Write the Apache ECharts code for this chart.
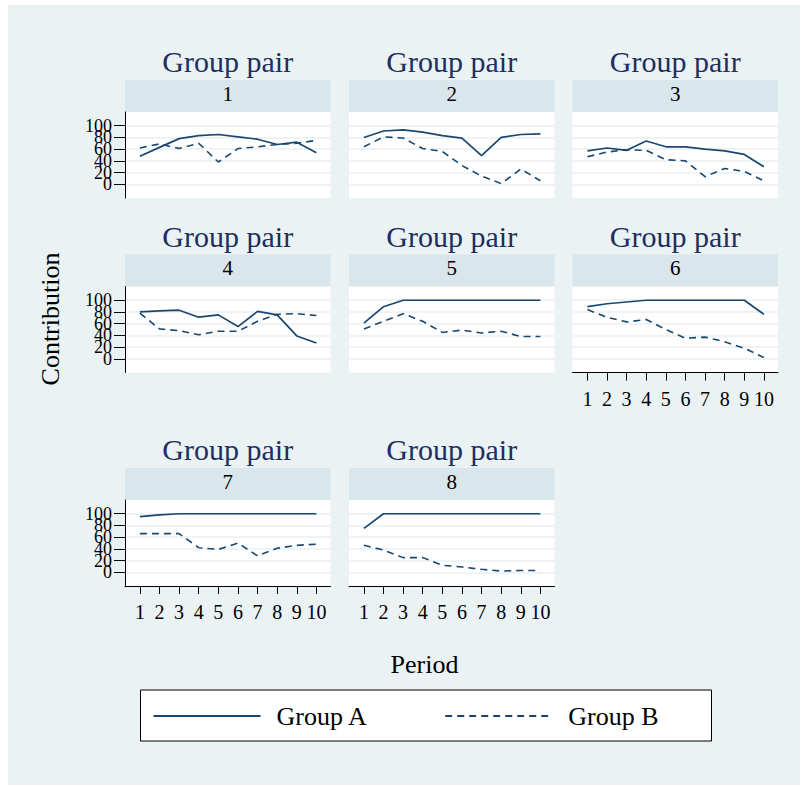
<!DOCTYPE html>
<html>
<head>
<meta charset="utf-8">
<script src="https://cdn.jsdelivr.net/npm/echarts@6/dist/echarts.min.js"></script>
<style>
  html, body { margin: 0; padding: 0; background: #ffffff; }
  #chart { width: 809px; height: 787px; }
</style>
</head>
<body>
<div id="chart"></div>
<script>
// ---- data ----
const periods = [1, 2, 3, 4, 5, 6, 7, 8, 9, 10];
const yTicks = [0, 20, 40, 60, 80, 100];
const pairLabels = ['1', '2', '3', '4', '5', '6', '7', '8'];
const panelTitle = 'Group pair';
const seriesNames = ['Group A', 'Group B'];

const pair1A = [48, 63, 78, 83, 85, 81, 77, 68, 72, 54];
const pair1B = [62, 69, 61, 70, 38, 61, 64, 68, 70, 75];
const pair2A = [80, 91, 93, 89, 83, 79, 49, 80, 85, 86];
const pair2B = [64, 81, 79, 61, 56, 32, 14, 1, 26, 6];
const pair3A = [57, 62, 58, 74, 64, 64, 60, 57, 51, 30];
const pair3B = [47, 55, 59, 58, 42, 40, 13, 27, 22, 6];
const pair4A = [80, 82, 83, 71, 75, 55, 81, 75, 39, 27];
const pair4B = [78, 51, 48, 41, 47, 47, 64, 76, 77, 74];
const pair5A = [61, 89, 100, 100, 100, 100, 100, 100, 100, 100];
const pair5B = [51, 64, 77, 64, 45, 49, 44, 47, 38, 38];
const pair6A = [89, 94, 97, 100, 100, 100, 100, 100, 100, 76];
const pair6B = [84, 71, 63, 67, 50, 35, 37, 29, 18, 2];
const pair7A = [95, 98, 100, 100, 100, 100, 100, 100, 100, 100];
const pair7B = [66, 66, 66, 42, 39, 50, 28, 41, 46, 48];
const pair8A = [75, 100, 100, 100, 100, 100, 100, 100, 100, 100];
const pair8B = [46, 38, 25, 25, 12, 9, 5, 2, 3, 3];

const groupA = [pair1A, pair2A, pair3A, pair4A, pair5A, pair6A, pair7A, pair8A];
const groupB = [pair1B, pair2B, pair3B, pair4B, pair5B, pair6B, pair7B, pair8B];

// ---- layout / style ----
const FONT = '"Liberation Serif", "Times New Roman", serif';
const LINE = '#1a476f';
const BG = '#eaf2f3';
const STRIP = '#d9e6eb';
const GRIDC = '#e8eff2';
const colX = [125, 349, 572.5];
const rowPlotTop = [112, 286.5, 500];
const PW = 205.5, PH = 86, STRIPH = 32;
const Y_MIN = -23.5, Y_MAX = 123.5;

const grids = [], xAxes = [], yAxes = [], extraY = [], series = [], graphics = [];

graphics.push({ type: 'rect', shape: { x: 8, y: 5, width: 792, height: 780 }, style: { fill: BG }, z: -10, silent: true });

// tick labels alternate between two stacked axes so every label stays visible
const yTicksEven = yTicks.filter((v, k) => k % 2 === 0);
const yTicksOdd = yTicks.filter((v, k) => k % 2 === 1);

function yLabel(show, values) {
  return { show: show, customValues: values, margin: 13, fontSize: 18, fontFamily: FONT, color: '#000',
           showMinLabel: true, showMaxLabel: true, hideOverlap: false };
}

for (let i = 0; i < 8; i++) {
  const col = i % 3, row = Math.floor(i / 3);
  const x = colX[col], top = rowPlotTop[row];
  const showY = col === 0;
  const showX = i >= 5;
  grids.push({ left: x, top: top, width: PW, height: PH, show: true, backgroundColor: '#ffffff', borderWidth: 0 });
  xAxes.push({
    type: 'value', gridIndex: i, min: 0.24, max: 10.72,
    axisLine: { show: showX, onZero: false, lineStyle: { color: '#000', width: 1 } },
    axisTick: { show: showX, length: 8, customValues: periods, lineStyle: { color: '#000' } },
    axisLabel: { show: showX, customValues: periods, margin: 16, fontSize: 20, fontFamily: FONT, color: '#000',
                 showMinLabel: true, showMaxLabel: true, hideOverlap: false },
    splitLine: { show: false }
  });
  yAxes.push({
    type: 'value', gridIndex: i, min: Y_MIN, max: Y_MAX, position: 'left', offset: 0,
    axisLine: { show: showY, onZero: false, lineStyle: { color: '#000', width: 1 } },
    axisTick: { show: showY, length: 11, customValues: yTicks, lineStyle: { color: '#000' } },
    axisLabel: yLabel(showY, yTicksEven),
    splitLine: { show: true, lineStyle: { color: GRIDC, width: 1.5 } }
  });
  if (showY) {
    extraY.push({
      type: 'value', gridIndex: i, min: Y_MIN, max: Y_MAX, position: 'left', offset: 0,
      axisLine: { show: false, onZero: false },
      axisTick: { show: false },
      axisLabel: yLabel(true, yTicksOdd),
      splitLine: { show: false }
    });
  }
  series.push({
    name: seriesNames[0], type: 'line', xAxisIndex: i, yAxisIndex: i,
    data: periods.map((p, k) => [p, groupA[i][k]]),
    symbol: 'none', lineStyle: { color: LINE, width: 1.7, type: 'solid' }, itemStyle: { color: LINE }
  });
  series.push({
    name: seriesNames[1], type: 'line', xAxisIndex: i, yAxisIndex: i,
    data: periods.map((p, k) => [p, groupB[i][k]]),
    symbol: 'none', lineStyle: { color: LINE, width: 1.6, type: [7, 5] }, itemStyle: { color: LINE }
  });
  // strip + titles
  graphics.push({ type: 'rect', shape: { x: x, y: top - STRIPH, width: PW, height: STRIPH }, style: { fill: STRIP }, silent: true });
  graphics.push({ type: 'text', x: x + PW / 2, y: top - STRIPH / 2 - 2.5, style: { text: pairLabels[i], font: '21px ' + FONT, fill: '#000', textAlign: 'center', textVerticalAlign: 'middle' }, silent: true });
  graphics.push({ type: 'text', x: x + PW / 2, y: top - STRIPH - 18.5, style: { text: panelTitle, font: '30px ' + FONT, fill: '#1c2f5e', textAlign: 'center', textVerticalAlign: 'middle' }, silent: true });
}

graphics.push({ type: 'text', x: 50, y: 319, rotation: Math.PI / 2, style: { text: 'Contribution', font: '26px ' + FONT, fill: '#000', textAlign: 'center', textVerticalAlign: 'middle' }, silent: true });
graphics.push({ type: 'text', x: 424.5, y: 664, style: { text: 'Period', font: '26px ' + FONT, fill: '#000', textAlign: 'center', textVerticalAlign: 'middle' }, silent: true });
graphics.push({ type: 'rect', shape: { x: 140.5, y: 690, width: 571, height: 51 }, style: { fill: '#ffffff', stroke: '#000', lineWidth: 1 }, z: -5, silent: true });

const chart = echarts.init(document.getElementById('chart'), null, { renderer: 'svg' });
chart.setOption({
  animation: false,
  backgroundColor: '#ffffff',
  grid: grids,
  xAxis: xAxes,
  yAxis: yAxes.concat(extraY),
  series: series,
  legend: {
    data: seriesNames,
    left: 152.5, top: 703,
    padding: 0,
    itemWidth: 107, itemHeight: 14, itemGap: 76,
    itemStyle: { color: 'rgba(0,0,0,0)', borderColor: 'rgba(0,0,0,0)', borderWidth: 0, opacity: 0 },
    textStyle: { fontSize: 26, fontFamily: FONT, color: '#000', padding: [0, 0, 0, 11] },
    selectedMode: false
  },
  graphic: graphics
});
</script>
</body>
</html>
